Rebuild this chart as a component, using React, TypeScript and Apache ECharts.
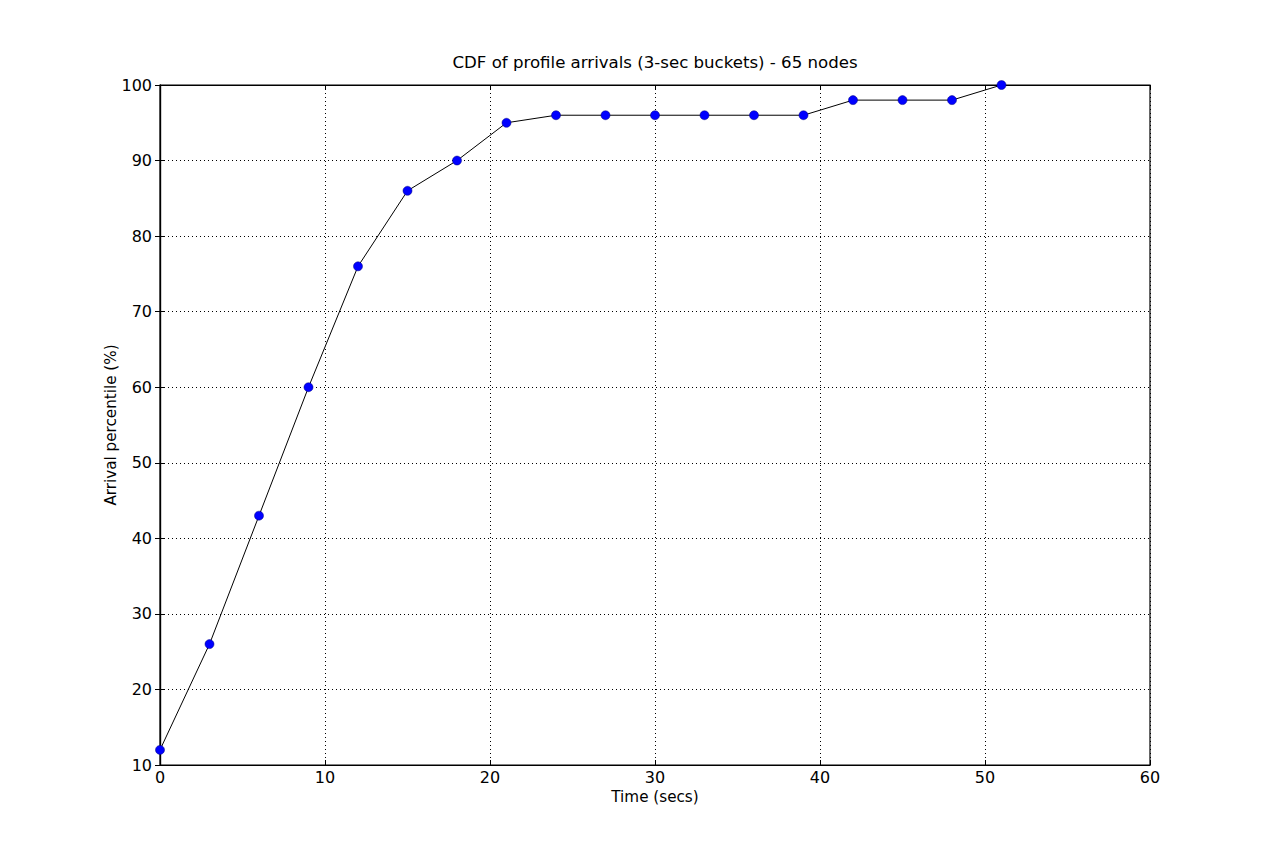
import React, { useEffect, useRef } from "react";
import * as echarts from "echarts";

const titleText = "CDF of profile arrivals (3-sec buckets) - 65 nodes";
const xLabel = "Time (secs)";
const yLabel = "Arrival percentile (%)";
const times = [0, 3, 6, 9, 12, 15, 18, 21, 24, 27, 30, 33, 36, 39, 42, 45, 48, 51];
const percentiles = [12, 26, 43, 60, 76, 86, 90, 95, 96, 96, 96, 96, 96, 96, 98, 98, 98, 100];

const FONT = "DejaVu Sans";

export default function App() {
  const ref = useRef<HTMLDivElement>(null);
  useEffect(() => {
    if (!ref.current) return;
    const chart = echarts.init(ref.current, undefined, { renderer: "svg" });
    const data = times.map((t, i) => [t, percentiles[i]]);
    const tickCommon = { show: true, inside: true, length: 5, lineStyle: { color: "#000", width: 1 } };
    chart.setOption({
      animation: false,
      backgroundColor: "#fff",
      title: {
        text: titleText,
        left: 650,
        top: 49,
        textAlign: "center",
        textStyle: { fontFamily: FONT, fontSize: 16.6, fontWeight: "normal", color: "#000" },
      },
      grid: { left: 160, right: 128, top: 85, bottom: 85, show: true, borderColor: "#000", borderWidth: 1.2, backgroundColor: "#fff" },
      xAxis: [
        {
          type: "value",
          min: 0,
          max: 60,
          interval: 10,
          name: xLabel,
          nameLocation: "middle",
          nameGap: 24,
          nameMoveOverlap: false,
          nameTextStyle: { fontFamily: FONT, fontSize: 15.2, color: "#000" },
          axisLine: { show: true, lineStyle: { color: "#000", width: 1.2 } },
          axisTick: tickCommon,
          axisLabel: { fontFamily: FONT, fontSize: 16, color: "#000", margin: 4 },
          splitLine: { show: true, lineStyle: { color: "#000", type: [1, 3], width: 1 } },
        },
        {
          type: "value",
          position: "top",
          min: 0,
          max: 60,
          interval: 10,
          axisLine: { show: true, lineStyle: { color: "#000", width: 1.2 } },
          axisTick: tickCommon,
          axisLabel: { show: false },
          splitLine: { show: false },
        },
      ],
      yAxis: [
        {
          type: "value",
          min: 10,
          max: 100,
          interval: 10,
          name: yLabel,
          nameLocation: "middle",
          nameGap: 42,
          nameMoveOverlap: false,
          nameTextStyle: { fontFamily: FONT, fontSize: 15.2, color: "#000" },
          axisLine: { show: true, lineStyle: { color: "#000", width: 1.2 } },
          axisTick: tickCommon,
          axisLabel: { fontFamily: FONT, fontSize: 16, color: "#000", margin: 8 },
          splitLine: { show: true, lineStyle: { color: "#000", type: [1, 3], width: 1 } },
        },
        {
          type: "value",
          position: "right",
          min: 10,
          max: 100,
          interval: 10,
          axisLine: { show: true, lineStyle: { color: "#000", width: 1.2 } },
          axisTick: tickCommon,
          axisLabel: { show: false },
          splitLine: { show: false },
        },
      ],
      series: [
        {
          type: "line",
          data,
          xAxisIndex: 0,
          yAxisIndex: 0,
          symbol: "circle",
          symbolSize: 9,
          lineStyle: { color: "#000", width: 1 },
          itemStyle: { color: "#0000ff", borderColor: "#00007f", borderWidth: 0.5 },
          clip: false,
          z: 5,
        },
      ],
    });
    return () => chart.dispose();
  }, []);
  return (
    <div
      ref={ref}
      style={{ position: "fixed", left: 0, top: 0, width: 1278, height: 850, background: "#fff" }}
    />
  );
}
